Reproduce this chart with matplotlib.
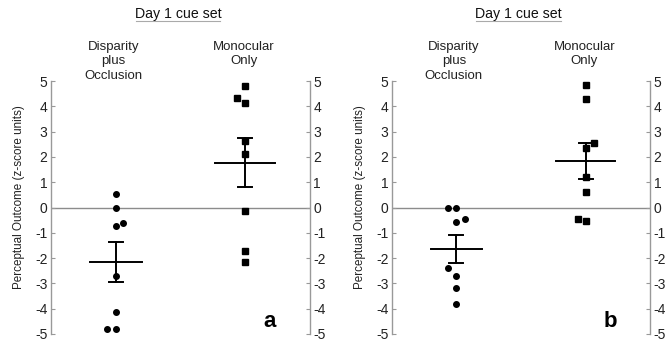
import matplotlib
matplotlib.use("Agg")
import matplotlib.pyplot as plt
from matplotlib.lines import Line2D

plt.rcParams['font.family'] = ['Liberation Sans', 'DejaVu Sans']

# panel a
a_disp_y = [0.55, 0.0, -0.75, -0.6, -2.7, -4.15, -4.8, -4.8]
a_disp_dx = [0, 0, 0, 0.028, 0, 0, -0.035, 0]
a_mono_y = [4.8, 4.35, 4.15, 2.65, 2.1, -0.15, -1.7, -2.15]
a_mono_dx = [0, -0.03, 0, 0, 0, 0, 0, 0]
a_means = [-2.16, 1.78]
a_err_lo = [-2.95, 0.8]
a_err_hi = [-1.37, 2.75]

# panel b
b_disp_y = [0.0, 0.0, -0.58, -0.45, -2.4, -2.7, -3.2, -3.82]
b_disp_dx = [-0.033, 0, 0, 0.033, -0.033, 0, 0, 0]
b_mono_y = [4.85, 4.3, 2.55, 2.35, 1.2, 0.62, -0.46, -0.53]
b_mono_dx = [0, 0, 0.032, 0, 0, 0, -0.03, 0]
b_means = [-1.63, 1.85]
b_err_lo = [-2.19, 1.14]
b_err_hi = [-1.08, 2.55]

groups = ["Disparity\nplus\nOcclusion", "Monocular\nOnly"]
group_x = [0.25, 0.75]
label_x = [0.24, 0.745]
yticks = [5, 4, 3, 2, 1, 0, -1, -2, -3, -4, -5]

fig = plt.figure(figsize=(6.71, 3.45), dpi=100)
gray = "#999999"


def panel(rect, disp_y, disp_dx, mono_y, mono_dx, means, lo, hi, letter):
    ax = fig.add_axes(rect)
    ax.set_xlim(0, 1)
    ax.set_ylim(-5, 5)
    ax.axhline(0, color="#8c8c8c", lw=1.0, zorder=1)
    ax.plot([group_x[0] + d for d in disp_dx], disp_y, "o", color="black",
            ms=4, zorder=3)
    ax.plot([group_x[1] + d for d in mono_dx], mono_y, "s", color="black",
            ms=4.2, zorder=3)
    halfw = [0.1, 0.115]
    for i in range(2):
        x = group_x[i]
        ax.plot([x - halfw[i], x + halfw[i]], [means[i], means[i]],
                color="black", lw=1.4, zorder=4)
        ax.plot([x, x], [lo[i], hi[i]], color="black", lw=1.4, zorder=4)
        for v in (lo[i], hi[i]):
            ax.plot([x - 0.027, x + 0.027], [v, v], color="black", lw=1.4,
                    zorder=4)
    for s in ("top", "bottom"):
        ax.spines[s].set_visible(False)
    for s in ("left", "right"):
        ax.spines[s].set_color(gray)
        ax.spines[s].set_linewidth(1.0)
    ax.set_xticks([])
    ax.set_yticks(yticks)
    ax.set_yticklabels([str(t) for t in yticks])
    ax.tick_params(axis="y", direction="in", length=3, color=gray,
                   labelsize=10, labelcolor="#222222", left=True,
                   right=True, labelleft=True, labelright=True, pad=2.5)
    ax.set_ylabel("Perceptual Outcome (z-score units)", fontsize=8.4,
                  color="#222222")
    ax.yaxis.set_label_coords(-0.10, 0.54)
    for i in range(2):
        ax.text(label_x[i], 1.16, groups[i], transform=ax.transAxes,
                ha="center", va="top", fontsize=9.5, color="#222222",
                linespacing=1.3)
    ax.text(0.845, -4.5, letter, fontsize=16, fontweight="bold",
            ha="center", va="center")
    return ax


ax1 = panel([0.076, 0.032, 0.386, 0.733], a_disp_y, a_disp_dx, a_mono_y,
            a_mono_dx, a_means, a_err_lo, a_err_hi, "a")
ax2 = panel([0.584, 0.032, 0.385, 0.733], b_disp_y, b_disp_dx, b_mono_y,
            b_mono_dx, b_means, b_err_lo, b_err_hi, "b")

for cx in (0.265, 0.773):
    fig.text(cx, 0.958, "Day 1 cue set", ha="center", va="center",
             fontsize=10.2, color="#111111")
    fig.add_artist(Line2D([cx - 0.063, cx + 0.063], [0.938, 0.938],
                          color="#aaaaaa", lw=0.8))

fig.savefig("out.png", dpi=100)
